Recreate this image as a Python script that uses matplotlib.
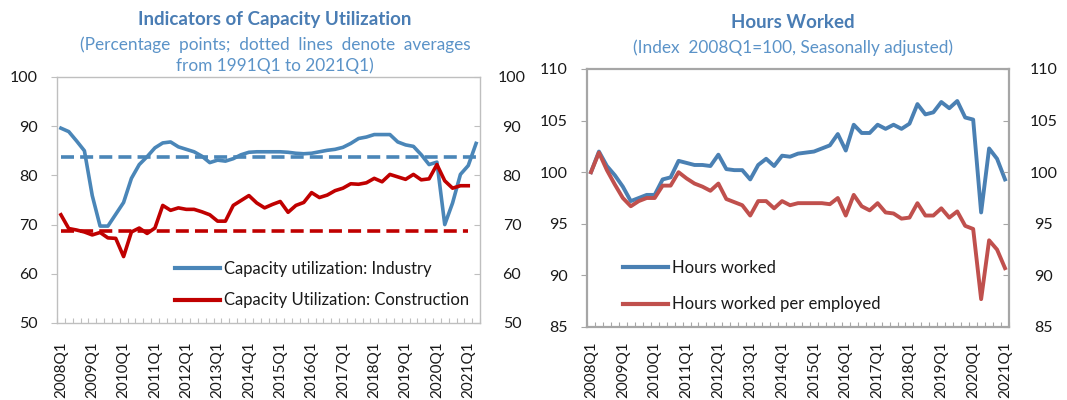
import matplotlib
matplotlib.use("Agg")
import matplotlib.pyplot as plt
from matplotlib.lines import Line2D

plt.rcParams['font.family'] = ['Lato', 'DejaVu Sans']

# ---------------- data ----------------
quarters_left = [f"{y}Q{q}" for y in range(2008, 2022) for q in range(1, 5)][:54]   # 2008Q1..2021Q2
quarters_right = quarters_left[:53]                                                  # 2008Q1..2021Q1

cu_industry = [89.6, 88.9, 87.0, 85.0, 75.9, 69.7, 69.7, 72.1, 74.5, 79.4, 82.2, 83.8, 85.6, 86.6,
               86.8, 85.8, 85.3, 84.8, 83.9, 82.6, 83.1, 82.9, 83.4, 84.2, 84.7, 84.8, 84.8, 84.8,
               84.8, 84.7, 84.5, 84.4, 84.5, 84.8, 85.1, 85.3, 85.7, 86.5, 87.5, 87.8, 88.3, 88.3,
               88.3, 86.8, 86.2, 85.9, 84.2, 82.2, 82.7, 70.0, 74.4, 80.2, 82.0, 86.5]
cu_construction = [72.0, 69.2, 68.9, 68.5, 67.9, 68.4, 67.3, 67.2, 63.5, 68.5, 69.3, 68.2, 69.3, 73.9,
                   72.9, 73.4, 73.1, 73.1, 72.6, 72.0, 70.7, 70.7, 73.9, 74.9, 75.9, 74.4, 73.4, 74.1,
                   74.7, 72.5, 73.9, 74.5, 76.5, 75.5, 76.0, 76.9, 77.4, 78.3, 78.2, 78.5, 79.4, 78.7,
                   80.2, 79.7, 79.2, 80.2, 79.1, 79.3, 82.2, 78.9, 77.4, 77.9, 77.9]
avg_industry = 83.7
avg_construction = 68.6

hours_worked = [100.0, 102.0, 100.6, 99.7, 98.6, 97.2, 97.5, 97.8, 97.8, 99.3, 99.5, 101.1, 100.9, 100.7,
                100.7, 100.6, 101.7, 100.3, 100.2, 100.2, 99.3, 100.7, 101.3, 100.6, 101.6, 101.5, 101.8,
                101.9, 102.0, 102.3, 102.6, 103.7, 102.1, 104.6, 103.8, 103.8, 104.6, 104.2, 104.6, 104.2,
                104.7, 106.6, 105.6, 105.8, 106.8, 106.2, 106.9, 105.3, 105.1, 96.1, 102.3, 101.3, 99.3]
hours_per_employed = [100.0, 101.9, 100.2, 98.8, 97.5, 96.7, 97.2, 97.5, 97.5, 98.7, 98.7, 100.0, 99.4,
                      98.9, 98.6, 98.2, 98.9, 97.4, 97.1, 96.8, 95.8, 97.2, 97.2, 96.5, 97.2, 96.8, 97.0,
                      97.0, 97.0, 97.0, 96.9, 97.5, 95.8, 97.8, 96.7, 96.3, 97.0, 96.1, 96.0, 95.5, 95.6,
                      97.0, 95.8, 95.8, 96.5, 95.6, 96.2, 94.8, 94.5, 87.7, 93.4, 92.5, 90.7]

left_yticks = [50, 60, 70, 80, 90, 100]
right_yticks = [85, 90, 95, 100, 105, 110]

# ---------------- style ----------------
BLUE_L = '#4a86b8'
RED_L = '#c00000'
BLUE_R = '#4a80b3'
RED_R = '#c0504d'
TITLE_C = '#4a7db4'
SUB_C = '#5b93c8'
TXT = '#1a1a1a'
FS_TICK = 11.5
FS_X = 11
FS_LEG = 12.0
FS_TITLE = 13.5
FS_SUB = 12.4

fig = plt.figure(figsize=(10.67, 4.0), dpi=100)


def setup_axes(ax, labels, ylim, yticks, spine_c, spine_w, tick_pad, twin_pad, xpad):
    n = len(labels)
    ax.set_xlim(-0.5, n - 0.5)
    ax.set_ylim(*ylim)
    for s in ax.spines.values():
        s.set_color(spine_c)
        s.set_linewidth(spine_w)
    ax.set_yticks(yticks)
    ax.tick_params(axis='y', which='major', direction='out', length=4, color=spine_c,
                   labelsize=FS_TICK, labelcolor=TXT, pad=tick_pad)
    ax.set_xticks(range(0, n, 4))
    ax.set_xticklabels([labels[i] for i in range(0, n, 4)], rotation=90, fontsize=FS_X, color=TXT)
    ax.tick_params(axis='x', which='major', length=0, pad=xpad)
    ax.set_xticks([i - 0.5 for i in range(n + 1)], minor=True)
    ax.tick_params(axis='x', which='minor', direction='in', length=3.5, color=spine_c, width=0.8)
    tw = ax.twinx()
    tw.set_ylim(*ylim)
    tw.set_yticks(yticks)
    tw.tick_params(axis='y', direction='in', length=4, color=spine_c, labelsize=FS_TICK,
                   labelcolor=TXT, pad=twin_pad)
    for lab in tw.get_yticklabels():
        lab.set_horizontalalignment('center')
    for s in tw.spines.values():
        s.set_visible(False)
    return tw


# ---------------- left chart ----------------
axL = fig.add_axes([57 / 1067, 1 - 323 / 400, 423 / 1067, 246 / 400])
setup_axes(axL, quarters_left, (50, 100), left_yticks, '#bfbfbf', 1.0, 10, 23, 13)

xL = list(range(len(cu_industry)))
xC = list(range(len(cu_construction)))
axL.plot(xL, [avg_industry] * len(xL), color=BLUE_L, lw=2.6, dashes=(3.6, 1.7))
axL.plot(xC, [avg_construction] * len(xC), color=RED_L, lw=2.6, dashes=(3.6, 1.7))
axL.plot(xL, cu_industry, color=BLUE_L, lw=2.6, solid_joinstyle='round')
axL.plot(xC, cu_construction, color=RED_L, lw=2.6, solid_joinstyle='round')

hL = [Line2D([], [], color=BLUE_L, lw=3), Line2D([], [], color=RED_L, lw=3)]
fig.legend(hL, ['Capacity utilization: Industry', 'Capacity Utilization: Construction'],
           loc='upper left', bbox_to_anchor=(175 / 1067, 1 - 261 / 400), frameon=False,
           fontsize=FS_LEG, handlelength=2.7, handletextpad=0.25, labelspacing=0.92,
           labelcolor=TXT, borderaxespad=0, borderpad=0)

fig.text(275 / 1067, 1 - 19 / 400, 'Indicators of Capacity Utilization', ha='center', va='center',
         fontsize=FS_TITLE, fontweight='bold', color=TITLE_C)
fig.text(275 / 1067, 1 - 55 / 400,
         '(Percentage  points;  dotted  lines  denote  averages\nfrom 1991Q1 to 2021Q1)',
         ha='center', va='center', fontsize=FS_SUB, color=SUB_C, linespacing=1.3)

# ---------------- right chart ----------------
axR = fig.add_axes([587 / 1067, 1 - 327 / 400, 422 / 1067, 258 / 400])
setup_axes(axR, quarters_right, (85, 110), right_yticks, '#a6a6a6', 1.6, 10, 25, 10)

xH = list(range(len(hours_worked)))
axR.plot(xH, hours_worked, color=BLUE_R, lw=2.8, solid_joinstyle='round')
axR.plot(xH, hours_per_employed, color=RED_R, lw=2.8, solid_joinstyle='round')

hR = [Line2D([], [], color=BLUE_R, lw=3), Line2D([], [], color=RED_R, lw=3)]
fig.legend(hR, ['Hours worked', 'Hours worked per employed'],
           loc='upper left', bbox_to_anchor=(623 / 1067, 1 - 260 / 400), frameon=False,
           fontsize=FS_LEG, handlelength=2.7, handletextpad=0.25, labelspacing=1.22,
           labelcolor=TXT, borderaxespad=0, borderpad=0)

fig.text(793 / 1067, 1 - 22 / 400, 'Hours Worked', ha='center', va='center',
         fontsize=FS_TITLE, fontweight='bold', color=TITLE_C)
fig.text(793 / 1067, 1 - 48 / 400, '(Index  2008Q1=100, Seasonally adjusted)', ha='center',
         va='center', fontsize=FS_SUB, color=SUB_C)

fig.savefig('out.png', dpi=100)
